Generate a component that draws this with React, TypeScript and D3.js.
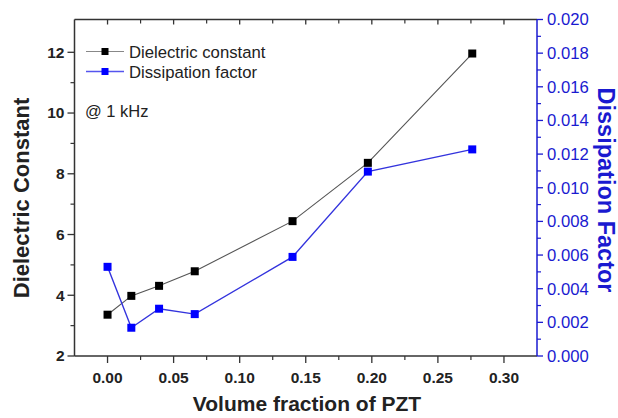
import React from 'react';
import * as d3 from 'd3';

const volumeFraction = [0, 0.018, 0.039, 0.066, 0.14, 0.197, 0.276];
const dielectricConstant = [3.36, 3.98, 4.31, 4.79, 6.44, 8.36, 11.96];
const dissipationFactor = [0.0053, 0.00168, 0.00281, 0.00249, 0.00589, 0.01096, 0.01228];
const xTicks = [0, 0.05, 0.1, 0.15, 0.2, 0.25, 0.3];
const leftTicks = [2, 4, 6, 8, 10, 12];
const rightTicks = [0, 0.002, 0.004, 0.006, 0.008, 0.01, 0.012, 0.014, 0.016, 0.018, 0.02];
const seriesNames = ['Dielectric constant', 'Dissipation factor'];

const W = 618, H = 418;
const L = 74.5, R = 537, T = 19.5, B = 356;
const FONT = 'Liberation Sans, Arial, sans-serif';
const BLUE = '#1a1ad0';

export default function App() {
  const x = d3.scaleLinear().domain([-0.025, 0.325]).range([L, R]);
  const yL = d3.scaleLinear().domain([2, 13.08]).range([B, T]);
  const yR = d3.scaleLinear().domain([0, 0.02]).range([B, T]);

  const xMinor = d3.range(-0.025, 0.3251, 0.025).filter(v => v > -0.02 && v < 0.32);
  const lMinor = d3.range(3, 13, 2);
  const rMinor = d3.range(0.001, 0.02, 0.002);

  const lineL = d3.line<number>().x((_, i) => x(volumeFraction[i])).y(d => yL(d));
  const lineR = d3.line<number>().x((_, i) => x(volumeFraction[i])).y(d => yR(d));
  const ms = 8;

  return (
    <svg width={W} height={H} style={{ position: 'absolute', left: 0, top: 0, background: '#fff' }} fontFamily={FONT}>
      <rect width={W} height={H} fill="#fff" />
      {/* frame */}
      <line x1={L} x2={R} y1={T} y2={T} stroke="#333" strokeWidth={1.5} />
      <line x1={L} x2={R} y1={B} y2={B} stroke="#333" strokeWidth={1.5} />
      <line x1={L} x2={L} y1={T} y2={B} stroke="#333" strokeWidth={1.5} />
      <line x1={R} x2={R} y1={T} y2={B} stroke={BLUE} strokeWidth={1.5} />

      {/* bottom & top ticks */}
      {xTicks.map(t => (
        <g key={'xt' + t}>
          <line x1={x(t)} x2={x(t)} y1={B} y2={B + 7} stroke="#333" strokeWidth={1.3} />
          <line x1={x(t)} x2={x(t)} y1={T} y2={T + 5} stroke="#333" strokeWidth={1.3} />
          <text x={x(t)} y={383} textAnchor="middle" fontSize={15.5} fontWeight="bold" fill="#222">{t.toFixed(2)}</text>
        </g>
      ))}
      {xMinor.filter(v => !xTicks.some(t => Math.abs(t - v) < 1e-6)).map(t => (
        <g key={'xm' + t}>
          <line x1={x(t)} x2={x(t)} y1={B} y2={B + 4} stroke="#333" strokeWidth={1.2} />
          <line x1={x(t)} x2={x(t)} y1={T} y2={T + 4} stroke="#333" strokeWidth={1.2} />
        </g>
      ))}

      {/* left ticks */}
      {leftTicks.map(t => (
        <g key={'lt' + t}>
          <line x1={L - 7} x2={L} y1={yL(t)} y2={yL(t)} stroke="#333" strokeWidth={1.3} />
          <text x={L - 10} y={yL(t)} dy="0.35em" textAnchor="end" fontSize={15.5} fontWeight="bold" fill="#222">{t}</text>
        </g>
      ))}
      {lMinor.map(t => (
        <line key={'lm' + t} x1={L - 4} x2={L} y1={yL(t)} y2={yL(t)} stroke="#333" strokeWidth={1.2} />
      ))}

      {/* right ticks */}
      {rightTicks.map(t => (
        <g key={'rt' + t}>
          <line x1={R} x2={R + 6} y1={yR(t)} y2={yR(t)} stroke={BLUE} strokeWidth={1.3} />
          <text x={R + 10} y={yR(t)} dy="0.35em" textAnchor="start" fontSize={16.7} fill={BLUE}>{t.toFixed(3)}</text>
        </g>
      ))}
      {rMinor.map(t => (
        <line key={'rm' + t} x1={R} x2={R + 4} y1={yR(t)} y2={yR(t)} stroke={BLUE} strokeWidth={1.2} />
      ))}

      {/* series */}
      <path d={lineL(dielectricConstant) || ''} fill="none" stroke="#555" strokeWidth={1.1} />
      <path d={lineR(dissipationFactor) || ''} fill="none" stroke="#3333dd" strokeWidth={1.4} />
      {dielectricConstant.map((d, i) => (
        <rect key={'pl' + i} x={x(volumeFraction[i]) - ms / 2} y={yL(d) - ms / 2} width={ms} height={ms} fill="#000" />
      ))}
      {dissipationFactor.map((d, i) => (
        <rect key={'pr' + i} x={x(volumeFraction[i]) - ms / 2} y={yR(d) - ms / 2} width={ms} height={ms} fill="#0000ff" />
      ))}

      {/* legend */}
      <line x1={86} x2={124} y1={51.5} y2={51.5} stroke="#888" strokeWidth={1.1} />
      <rect x={105 - 3.5} y={51.5 - 3.5} width={7} height={7} fill="#000" />
      <text x={129} y={57.5} fontSize={16.7} fill="#222">{seriesNames[0]}</text>
      <line x1={86} x2={124} y1={71.5} y2={71.5} stroke="#5555ee" strokeWidth={1.4} />
      <rect x={105 - 3.5} y={71.5 - 3.5} width={7} height={7} fill="#0000ff" />
      <text x={129} y={77.5} fontSize={16.7} fill="#222">{seriesNames[1]}</text>
      <text x={85} y={117} fontSize={16.5} fill="#222">@ 1 kHz</text>

      {/* axis titles */}
      <text x={307} y={411} textAnchor="middle" fontSize={21} fontWeight="bold" fill="#222">Volume fraction of PZT</text>
      <text transform={`translate(29,198) rotate(-90)`} textAnchor="middle" fontSize={22} fontWeight="bold" fill="#222">Dielectric Constant</text>
      <text transform={`translate(598,190) rotate(90)`} textAnchor="middle" fontSize={23.5} fontWeight="bold" fill={BLUE}>Dissipation Factor</text>
    </svg>
  );
}
